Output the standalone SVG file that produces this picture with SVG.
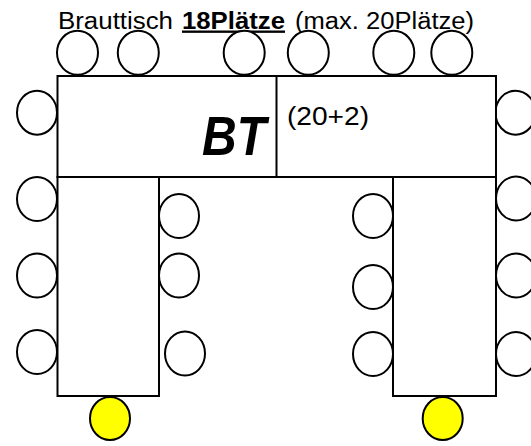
<svg xmlns="http://www.w3.org/2000/svg" width="531" height="446" viewBox="0 0 531 446">
<style>
.seat{fill:#fff;stroke:#000;stroke-width:2}
.guest{fill:#ffff00;stroke:#000;stroke-width:2}
.tbl{fill:#fff;stroke:#000;stroke-width:2}
.t{font-family:"Liberation Sans",Arial,sans-serif;fill:#000}
</style>
<rect width="531" height="446" fill="#fff"/>
<g id="title">
<text class="t" y="28.5" font-size="23.5"><tspan x="58" textLength="115" lengthAdjust="spacingAndGlyphs">Brauttisch</tspan><tspan x="182" textLength="103" lengthAdjust="spacingAndGlyphs" font-weight="bold" text-decoration="underline">18Plätze</tspan><tspan x="295" textLength="179" lengthAdjust="spacingAndGlyphs">(max. 20Plätze)</tspan></text>
</g>
<g id="seats-top">
<ellipse class="seat" cx="77.5" cy="52.8" rx="20.5" ry="22"/>
<ellipse class="seat" cx="138.3" cy="52.8" rx="20.5" ry="22"/>
<ellipse class="seat" cx="244.2" cy="52.8" rx="20.5" ry="22"/>
<ellipse class="seat" cx="308.3" cy="52.8" rx="20.5" ry="22"/>
<ellipse class="seat" cx="393.8" cy="52.8" rx="20.5" ry="22"/>
<ellipse class="seat" cx="451.8" cy="52.8" rx="20.5" ry="22"/>
<ellipse class="seat" cx="37" cy="112.7" rx="20" ry="22"/>
<ellipse class="seat" cx="515.5" cy="112.7" rx="20" ry="22"/>
</g>
<g id="seats-left-leg">
<ellipse class="seat" cx="37" cy="199" rx="20" ry="22"/>
<ellipse class="seat" cx="37" cy="275.5" rx="20" ry="22"/>
<ellipse class="seat" cx="37" cy="352" rx="20" ry="22"/>
<ellipse class="seat" cx="179" cy="216" rx="20" ry="22"/>
<ellipse class="seat" cx="179" cy="275.5" rx="20" ry="22"/>
<ellipse class="seat" cx="185" cy="353.5" rx="20" ry="22"/>
</g>
<g id="seats-right-leg">
<ellipse class="seat" cx="373" cy="216" rx="20" ry="22"/>
<ellipse class="seat" cx="373" cy="287" rx="20" ry="22"/>
<ellipse class="seat" cx="373" cy="354" rx="20" ry="22"/>
<ellipse class="seat" cx="516" cy="198.5" rx="20" ry="22"/>
<ellipse class="seat" cx="516" cy="275.5" rx="20" ry="22"/>
<ellipse class="seat" cx="516" cy="354" rx="20" ry="22"/>
</g>
<g id="table-top">
<rect class="tbl" x="57.5" y="76" width="438.5" height="101"/>
<line x1="276.5" y1="76" x2="276.5" y2="177" stroke="#000" stroke-width="2"/>
<text class="t" x="202" y="155" font-size="56" font-weight="bold" font-style="italic" textLength="64" lengthAdjust="spacingAndGlyphs">BT</text>
<text class="t" x="287" y="125" font-size="26.5" textLength="82" lengthAdjust="spacingAndGlyphs">(20+2)</text>
</g>
<g id="table-left-leg">
<rect class="tbl" x="57.5" y="177" width="101.5" height="219"/>
</g>
<g id="table-right-leg">
<rect class="tbl" x="393" y="177" width="103" height="219"/>
</g>
<g id="guest-left">
<ellipse class="guest" cx="110" cy="418.5" rx="20" ry="21.5"/>
</g>
<g id="guest-right">
<ellipse class="guest" cx="442.7" cy="418.5" rx="20" ry="21.5"/>
</g>
<g id="connectors"/>
</svg>
